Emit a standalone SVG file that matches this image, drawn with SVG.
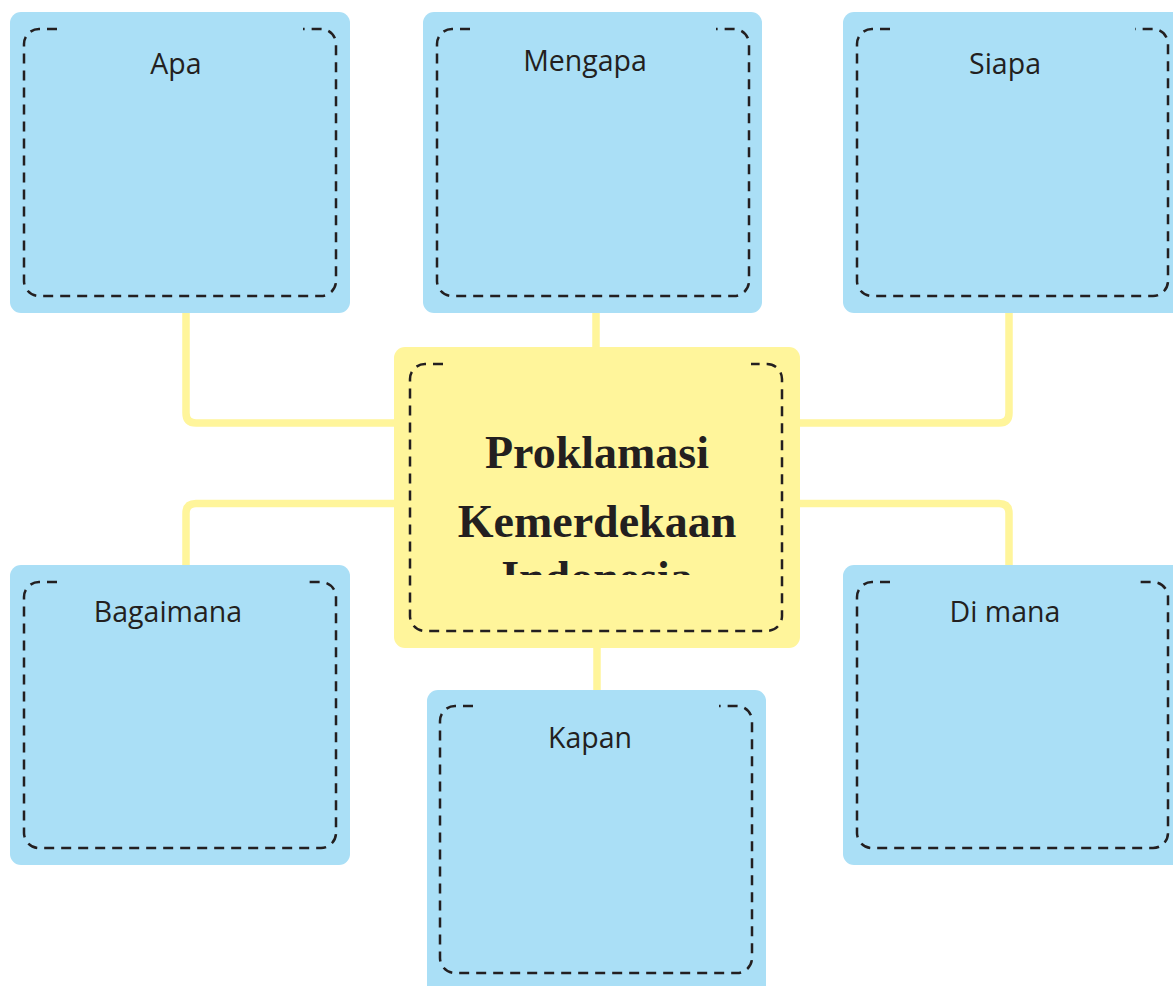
<svg xmlns="http://www.w3.org/2000/svg" width="1173" height="986" viewBox="0 0 1173 986">
<style>
.box{fill:#aadff6}
.center{fill:#fff59b}
.dash{fill:none;stroke:#231f20;stroke-width:2.5;stroke-dasharray:10 7}
.conn{fill:none;stroke:#fff59b;stroke-width:7.5}
.lbl{font-family:"Open Sans","Noto Sans",sans-serif;font-size:28.5px;fill:#231f20;text-anchor:middle}
.title{font-family:"Liberation Serif","Times New Roman",serif;font-weight:bold;font-size:46px;fill:#231f20;text-anchor:middle}
</style>
<defs>
<clipPath id="clipTitle"><rect x="394" y="347" width="406" height="228"/></clipPath>
</defs>
<rect width="1173" height="986" fill="#ffffff"/>
<g id="connectors">
<path class="conn" d="M186,310 V413 Q186,423 196,423 H400"/>
<path class="conn" d="M596,310 V352"/>
<path class="conn" d="M1009,310 V413 Q1009,423 999,423 H795"/>
<path class="conn" d="M400,503.5 H196 Q186,503.5 186,513.5 V568"/>
<path class="conn" d="M795,503.5 H999 Q1009,503.5 1009,513.5 V568"/>
<path class="conn" d="M597,644 V694"/>
</g>
<g id="node-apa">
<rect class="box" x="10" y="12" width="340" height="301" rx="11"/>
<path class="dash" d="M57,29 H39 A15,15 0 0 0 24,44 V281 A15,15 0 0 0 39,296 H321 A15,15 0 0 0 336,281 V44 A15,15 0 0 0 321,29 H303"/>
<text class="lbl" x="176" y="74">Apa</text>
</g>
<g id="node-mengapa">
<rect class="box" x="423" y="12" width="339" height="301" rx="11"/>
<path class="dash" d="M470,29 H452 A15,15 0 0 0 437,44 V281 A15,15 0 0 0 452,296 H734 A15,15 0 0 0 749,281 V44 A15,15 0 0 0 734,29 H716"/>
<text class="lbl" x="585" y="71">Mengapa</text>
</g>
<g id="node-siapa">
<rect class="box" x="843" y="12" width="340" height="301" rx="11"/>
<path class="dash" d="M890,29 H872 A15,15 0 0 0 857,44 V281 A15,15 0 0 0 872,296 H1153 A15,15 0 0 0 1168,281 V44 A15,15 0 0 0 1153,29 H1135"/>
<text class="lbl" x="1005" y="74">Siapa</text>
</g>
<g id="node-center">
<rect class="center" x="394" y="347" width="406" height="301" rx="11"/>
<path class="dash" d="M443,364 H425 A15,15 0 0 0 410,379 V616 A15,15 0 0 0 425,631 H767 A15,15 0 0 0 782,616 V379 A15,15 0 0 0 767,364 H751"/>
<g clip-path="url(#clipTitle)">
<text class="title" x="597" y="468">Proklamasi</text>
<text class="title" x="597" y="537">Kemerdekaan</text>
<text class="title" x="597" y="593">Indonesia</text>
</g>
</g>
<g id="node-bagaimana">
<rect class="box" x="10" y="565" width="340" height="300" rx="11"/>
<path class="dash" d="M57,582 H39 A15,15 0 0 0 24,597 V833 A15,15 0 0 0 39,848 H321 A15,15 0 0 0 336,833 V597 A15,15 0 0 0 321,582 H303"/>
<text class="lbl" x="168" y="622">Bagaimana</text>
</g>
<g id="node-dimana">
<rect class="box" x="843" y="565" width="340" height="300" rx="11"/>
<path class="dash" d="M890,582 H872 A15,15 0 0 0 857,597 V833 A15,15 0 0 0 872,848 H1153 A15,15 0 0 0 1168,833 V597 A15,15 0 0 0 1153,582 H1135"/>
<text class="lbl" x="1005" y="622">Di mana</text>
</g>
<g id="node-kapan">
<rect class="box" x="427" y="690" width="339" height="310" rx="11"/>
<path class="dash" d="M473,706 H455 A15,15 0 0 0 440,721 V958 A15,15 0 0 0 455,973 H737 A15,15 0 0 0 752,958 V721 A15,15 0 0 0 737,706 H719"/>
<text class="lbl" x="590" y="748">Kapan</text>
</g>
</svg>
